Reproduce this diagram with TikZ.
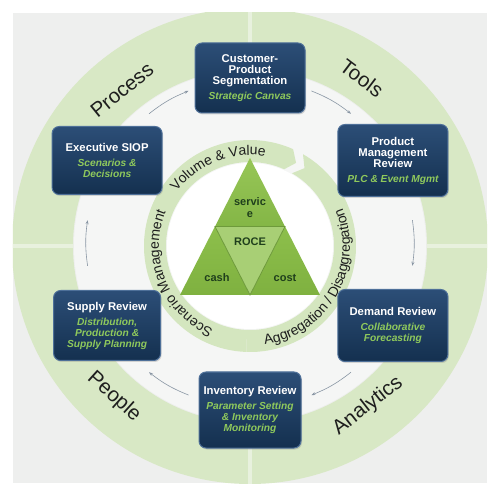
\documentclass[tikz,border=0pt]{standalone}
\usepackage{fontspec}
\setmainfont{Liberation Sans}
\usetikzlibrary{shadows,arrows.meta,decorations.text}
\definecolor{panel}{HTML}{EEEFEE}
\definecolor{innerbg}{HTML}{F5F6F5}
\definecolor{ringgreen}{HTML}{D8E8C5}
\definecolor{gapgreen}{HTML}{E8F1DE}
\definecolor{innergreen}{HTML}{D4E6BF}
\definecolor{boxtop}{HTML}{2C4E77}
\definecolor{boxbot}{HTML}{14304F}
\definecolor{boxedge}{HTML}{4E7099}
\definecolor{subgreen}{HTML}{8FC95C}
\definecolor{arrowgrey}{HTML}{8996A4}
\definecolor{triA}{HTML}{97C657}
\definecolor{triAb}{HTML}{84B646}
\definecolor{triB}{HTML}{A8CF75}
\definecolor{triC}{HTML}{8DBF4B}
\definecolor{triCb}{HTML}{7FB140}
\definecolor{triline}{HTML}{6E9A3B}
\definecolor{tritext}{HTML}{1F3F1C}
\definecolor{ringtext}{HTML}{1E1E1E}
\newcommand{\subfnt}{\fontsize{10.2}{10.2}\selectfont\bfseries\itshape\color{subgreen}}
\newcommand{\ringfnt}{\fontsize{14}{14}\selectfont}
\tikzset{
  stagebox/.style={rounded corners=7pt, draw=boxedge, line width=1pt,
    top color=boxtop, bottom color=boxbot, minimum width=110pt, minimum height=70pt,
    align=center, inner sep=1pt, text=white,
    font=\fontsize{11.3}{11}\selectfont\bfseries,
    drop shadow={opacity=0.3, shadow xshift=1pt, shadow yshift=-1.5pt}},
  ringlabel/.style={font=\fontsize{20.5}{22}\selectfont, text=ringtext, inner sep=0pt},
  tritxt/.style={font=\fontsize{11}{12}\selectfont\bfseries, text=tritext, align=center, inner sep=0pt},
  flowarrow/.style={draw=arrowgrey, line width=0.6pt, -{Stealth[length=4pt,width=3pt]}},
  ringtextpath/.style={decorate, decoration={text along path, text align=center, text color=ringtext, text={|\ringfnt|#1}}}
}
\begin{document}
\begin{tikzpicture}[x=1pt,y=1pt]
\useasboundingbox (-250,-254) rectangle (250,243);
\fill[white] (-250,-254) rectangle (250,243);
\fill[panel] (-237,230) rectangle (237,-240);
% outer ring
\begin{scope}
  \clip (-237,230) rectangle (237,-240);
  \fill[ringgreen, even odd rule] (0,-3) circle[radius=238] (0,-3) circle[radius=177];
  \foreach \a in {0,90,180,270}
    \draw[gapgreen, line width=4pt] (0,-3) ++(\a:177) -- ++(\a:62);
\end{scope}
\fill[innerbg] (0,-3) circle[radius=176];
% ring labels
\node[ringlabel, rotate=39] (proc) at (-128,153) {Process};
\node[ringlabel, rotate=-37] (tools) at (112,165) {Tools};
\node[ringlabel, rotate=-42] (people) at (-136,-154) {People};
\node[ringlabel, rotate=38] (anl) at (118,-163) {Analytics};
% inner ring
\begin{scope}[shift={(0,-3)}]
  \fill[innergreen] (268:106) arc[start angle=268, end angle=66, radius=106]
     -- (61:95) -- (66:84) arc[start angle=66, end angle=268, radius=84] -- cycle;
  \fill[innergreen] (60:106) arc[start angle=60, end angle=-92, radius=106]
     -- (-92:84) arc[start angle=-92, end angle=60, radius=84] -- (55:95) -- cycle;
  \fill[white] (0,0) circle[radius=83];
  \path[ringtextpath={Volume {\&} Value}] (160:91) arc[start angle=160, end angle=64, radius=91];
  \path[ringtextpath={Scenario Management}] (255:91) arc[start angle=255, end angle=149, radius=91];
  \path[ringtextpath={Aggregation / Disaggregation}] (-87:100) arc[start angle=-87, end angle=28, radius=100];
\end{scope}
% triangle
\coordinate (apex) at (0,85);
\coordinate (bl) at (-70,-52);
\coordinate (br) at (70,-52);
\coordinate (ml) at (-35,16.5);
\coordinate (mr) at (35,16.5);
\coordinate (mb) at (0,-52);
\shade[top color=triA, bottom color=triAb] (apex) -- (ml) -- (mr) -- cycle;
\shade[top color=triC, bottom color=triCb] (ml) -- (bl) -- (mb) -- cycle;
\shade[top color=triC, bottom color=triCb] (mr) -- (mb) -- (br) -- cycle;
\fill[triB] (ml) -- (mr) -- (mb) -- cycle;
\draw[triline, line width=0.8pt] (ml) -- (mr) -- (mb) -- cycle;
\node[tritxt] (svc) at (0,35) {servic\\e};
\node[tritxt] (roce) at (0,1) {ROCE};
\node[tritxt] (cash) at (-33,-35) {cash};
\node[tritxt] (cost) at (35,-35) {cost};
% stages
\node[stagebox] (cps) at (90:165) {Customer-\\Product\\Segmentation\\[4pt]\subfnt Strategic Canvas};
\node[stagebox, minimum height=72pt] (pmr) at (30:165) {Product\\Management\\Review\\[4pt]\subfnt PLC \& Event Mgmt};
\node[stagebox, minimum height=72pt] (dem) at (-30:165) {Demand Review\\[4pt]\subfnt Collaborative\\\subfnt Forecasting};
\node[stagebox, minimum width=102pt, minimum height=76pt] (inv) at (-90:167) {Inventory Review\\[4pt]\subfnt Parameter Setting\\\subfnt\& Inventory\\\subfnt Monitoring};
\node[stagebox, minimum width=107pt] (sup) at (-150:165) {Supply Review\\[4pt]\subfnt Distribution,\\\subfnt Production \&\\\subfnt Supply Planning};
\node[stagebox, minimum height=68pt] (exe) at (150:165) {Executive SIOP\\[4pt]\subfnt Scenarios \&\\\subfnt Decisions};
% flow arrows
\foreach \n/\a in {a1/120, a2/60, a3/0, a4/-60, a5/-120, a6/180} {
  \coordinate (\n s) at (\a+8:164);
  \coordinate (\n e) at (\a-8:164);
  \draw[flowarrow] (\n s) to[bend left=8] (\n e);
}
\end{tikzpicture}
\end{document}
